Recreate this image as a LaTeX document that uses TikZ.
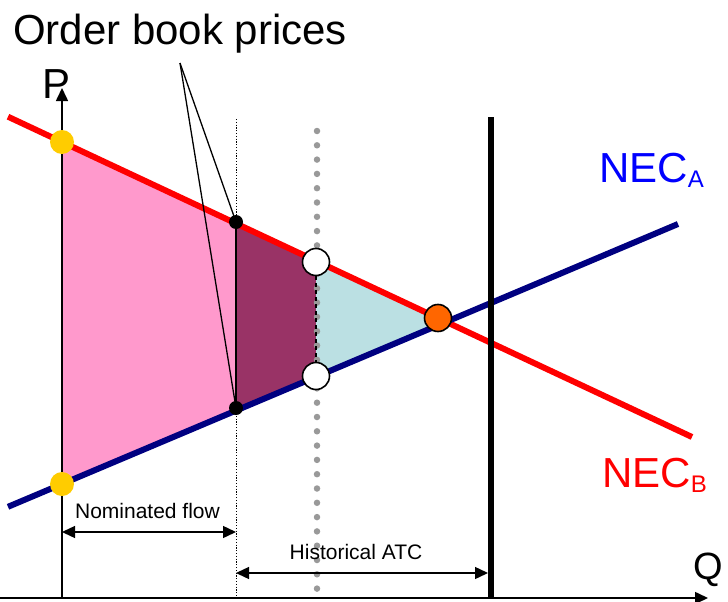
\documentclass[tikz,border=0pt]{standalone}
\usepackage{fontspec}
\setmainfont{Liberation Sans}
\usetikzlibrary{arrows.meta, positioning}

\definecolor{pinkfill}{HTML}{FF99CC}
\definecolor{maroonfill}{HTML}{993366}
\definecolor{cyanfill}{HTML}{BBE0E3}
\definecolor{yellowdot}{HTML}{FFCC00}
\definecolor{orangedot}{HTML}{FF6600}
\definecolor{navyline}{HTML}{000080}
\definecolor{dotgray}{HTML}{999999}

\begin{document}
\begin{tikzpicture}[
    x=1pt, y=-1pt,
    axis/.style={line width=1.6pt, -{Triangle[length=13pt,width=12pt]}},
    nec/.style={line width=6pt},
    dimline/.style={line width=1.4pt, {Triangle[length=13pt,width=12pt]}-{Triangle[length=13pt,width=12pt]}},
    pointer/.style={line width=1.3pt},
    bigtxt/.style={inner sep=0pt, font=\fontsize{42}{48}\selectfont},
    smalltxt/.style={inner sep=0pt, font=\fontsize{21}{24}\selectfont},
    ydot/.style={circle, fill=yellowdot, minimum size=24pt, inner sep=0pt},
    bdot/.style={circle, fill=black, minimum size=14pt, inner sep=0pt},
    wdot/.style={circle, draw, line width=1.6pt, fill=white, minimum size=27pt, inner sep=0pt},
    odot/.style={circle, draw, line width=1.6pt, fill=orangedot, minimum size=27pt, inner sep=0pt}
  ]
    \useasboundingbox (0,0) rectangle (728,602);

    % --- surplus areas ---
    \fill[pinkfill]   (62,142) -- (236,223.4) -- (236,410.6) -- (62,484) -- cycle;
    \fill[maroonfill] (236,223.4) -- (316,260.9) -- (316,376.8) -- (236,410.6) -- cycle;
    \fill[cyanfill]   (316,260.9) -- (446,322) -- (316,376.8) -- cycle;

    % --- axes ---
    \coordinate (o)  at (62,598);
    \coordinate (py) at (62,88);
    \coordinate (qx0) at (0,598);
    \coordinate (qx) at (708,598);
    \draw[axis] (o) -- (py);
    \draw[axis] (qx0) -- (qx);
    \node[bigtxt, anchor=base west] (plab) at (42,98) {P};
    \node[bigtxt, anchor=base west, font=\fontsize{38}{44}\selectfont] (qlab) at (693,579) {Q};

    % --- verticals ---
    \coordinate (nf0) at (236,119);
    \coordinate (nf1) at (236,598);
    \draw[line width=0.9pt, dash pattern=on 1.2pt off 1.6pt] (nf0) -- (nf1);
    \coordinate (hs0) at (317,131);
    \coordinate (hs1) at (317,602);
    \draw[dotgray, line width=6.5pt, line cap=round, dash pattern=on 0pt off 14.3pt] (hs0) -- (hs1);

    % --- NEC lines ---
    \coordinate (ra) at (8,116.7);
    \coordinate (rb) at (692,437);
    \coordinate (ba) at (8,506.8);
    \coordinate (bb) at (678,224);
    \draw[nec, red] (ra) -- (rb);
    \draw[nec, navyline] (ba) -- (bb);
    \node[bigtxt, anchor=base west, text=blue] (neca) at (599,182)
      {NEC\raisebox{-5pt}{\fontsize{24}{26}\selectfont A}};
    \node[bigtxt, anchor=base west, text=red] (necb) at (602,487)
      {NEC\raisebox{-5pt}{\fontsize{24}{26}\selectfont B}};

    % --- capacity line ---
    \coordinate (cap0) at (491,117);
    \coordinate (cap1) at (491,598);
    \draw[line width=6pt] (cap0) -- (cap1);

    % --- price points ---
    \node[ydot] (ya) at (62,142) {};
    \node[ydot] (yb) at (62,484) {};
    \node[bdot] (ka) at (236,222) {};
    \node[bdot] (kb) at (236,408) {};
    \draw[line width=1.4pt] (ka) -- (kb);
    \draw[line width=1.4pt, dash pattern=on 4pt off 3pt] (316,262) -- (316,376);
    \node[wdot] (wa) at (316,262) {};
    \node[wdot] (wb) at (316,376) {};
    \node[odot] (eq) at (438,318) {};

    % --- order book label ---
    \node[bigtxt, anchor=base] (obp) at (180,45) {Order book prices};
    \coordinate (obtip) at (180,63);
    \draw[pointer] (obtip) -- (ka.center);
    \draw[pointer] (obtip) -- (kb.center);

    % --- dimensions ---
    \coordinate (d1a) at (62,532);
    \coordinate (d1b) at (236,532);
    \draw[dimline] (d1a) -- (d1b);
    \node[smalltxt, anchor=base] (nflab) at (147.5,518) {Nominated flow};
    \coordinate (d2a) at (236,573);
    \coordinate (d2b) at (488,573);
    \draw[dimline] (d2a) -- (d2b);
    \node[smalltxt, anchor=base] (atclab) at (356,559) {Historical ATC};
\end{tikzpicture}
\end{document}
